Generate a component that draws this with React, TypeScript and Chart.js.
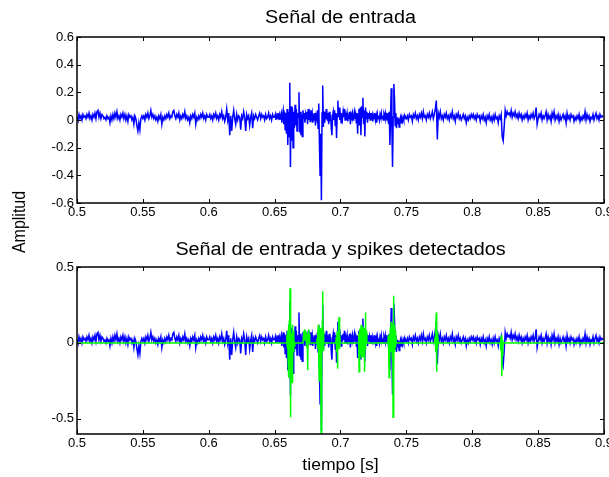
import React, { useEffect, useRef } from "react";
import { Chart, registerables } from "chart.js";

Chart.register(...registerables);

// Axis ticks
const X_TICKS = [0.5, 0.55, 0.6, 0.65, 0.7, 0.75, 0.8, 0.85, 0.9];
const Y_TICKS_TOP = [-0.6, -0.4, -0.2, 0, 0.2, 0.4, 0.6];
const Y_TICKS_BOTTOM = [-0.5, 0, 0.5];

// Input signal in hundredths of amplitude, one array per 50 ms window
const SEG_SPAN = 0.05;
const sig050 = [2, 0, 4, 1, 3, 0, 4, 2, 3, 1, 4, 2, 5, 1, 3, 0, 4, 2, 5, 1, 6, 7, 2, 5, 1, 4, 3, 1, 2, 0, 3, 1, 2, -2, 3, 0, 4, 1, 5, 2, 6, 1, 3, 0, 4, 2, 5, 1, 4, 0, 3, -1, 4, 2, 3, 0, 2, -3, 3, 1, -4, -8, -2, -7, 1, 3];
const sig055 = [1, 3, 0, 4, 2, 5, 1, 3, 7, 2, 4, 1, 3, 0, 2, -1, 3, 1, 4, -3, 2, 0, 3, 1, 4, 2, 5, 1, 3, 2, 6, 7, 3, 1, 4, 2, 5, 0, 3, 1, 4, 2, 6, 1, 3, 0, 2, -2, 3, 1, 4, 2, 5, -3, 2, 0, 3, 1, 4, 2, 5, 1, 3, 0, 4, 2];
const sig060 = [2, 4, 1, 3, 0, 4, 2, 5, 1, 3, 0, 4, 2, 6, 1, 3, -1, 2, 8, 0, 5, -11, 3, -8, 2, 7, 1, -3, 4, 0, 3, 2, -7, 3, 1, 6, 2, -8, 4, 1, 3, -4, 2, 5, -6, 3, 1, 4, 2, 0, 3, 5, 1, 4, 2, 3, 0, 4, 1, 2, 5, 1, 3, 0, 4, 2];
const sig065 = [2, 4, 0, 3, 1, 5, 2, 4, 0, 3, 5, -2, 4, 7, -3, 6, -7, 5, -10, 8, -18, 6, -12, 27, -34, 10, -15, 9, -20, 6, -6, 11, -4, 8, -8, 5, 2, 20, -9, 6, -11, 4, -12, 7, 1, 5, -2, 4, 1, 6, -3, 8, 0, 4, -1, 7, 2, 5, -2, 4, 0, 5, -4, 3, 1, 7, -6, 12, -17, -40, -10, -58, 5, 25, -5, 6, -2, 4, 1, 8, 0, 5, -3, 6, -1, 4, -6, -11, 3, 6, 0, 7, -4, 5, -13, 4, 14, 2, 9, 0];
const sig070 = [3, -2, 5, 1, 6, 2, 8, 0, 4, 2, 5, -1, 3, 1, 6, -3, 4, 2, 5, 0, 3, 6, 1, 4, -2, 5, -10, 4, 8, -4, 9, -11, 10, 2, 16, -3, 7, -12, 9, 1, 6, -2, 5, 1, 4, 0, 5, 2, 4, -1, 3, 1, 5, 0, 3, -2, 4, 1, 3, 0, 4, 2, 5, 1, 3, 0, 4, 2, 5, 1, 3, 0, 5, -3, 6, -18, 4, 23, -6, -34, 2, 26, 15, -4, 5, -6, 2, -3, 1, -5, 0, 2, -2, 1, -1, 2, 0, 3, 1, 2];
const sig075 = [1, 3, 0, 4, 2, 3, -1, 4, 2, 5, 1, 3, 0, 4, 2, 5, 1, 6, 2, 3, 0, 4, 2, 5, 1, 3, 6, 1, 4, 8, 14, -14, 5, 2, 6, 1, 3, 0, 4, 2, 5, 1, 3, 0, 4, 2, 6, 1, 3, -1, 4, 2, 5, 1, 3, 0, 2, 4, 1, 3, -2, 2, 0, 3, 1, 4];
const sig080 = [2, 4, 1, 3, 0, 4, 2, 3, -1, 3, 1, 4, 0, 2, -2, 3, 1, 4, 0, 2, -1, 3, 0, 4, 1, 2, -2, 3, 1, 4, -12, -15, -5, 7, 3, 6, 4, 5, 3, 7, 2, 5, 3, 6, 2, 4, 1, 5, 2, 4, 0, 3, 1, 4, 2, 5, 0, 3, 1, 4, 2, 5, 1, 3, 9, -3];
const sig085 = [1, 4, 2, 5, 0, 3, 1, 3, 6, 0, 4, 1, 3, -1, 5, 2, 6, 0, 3, 1, 4, -1, 3, 0, 2, 4, 1, 3, -2, 5, 1, 3, 0, 4, 2, 3, -1, 2, 0, 3, 1, 4, -1, 2, 0, 3, 1, 6, 0, 4, 1, 3, -1, 2, 1, 4, 0, 3, 5, 1, 3, 0, 4, 2, 3, 2];

const SEGMENTS: [number, number[]][] = [
  [0.5, sig050],
  [0.55, sig055],
  [0.6, sig060],
  [0.65, sig065],
  [0.7, sig070],
  [0.75, sig075],
  [0.8, sig080],
  [0.85, sig085],
];

// Detected spike waveforms (hundredths), sampled every SPIKE_DT from their onset
const SPIKE_DT = 0.0003;
const spike0659 = [0, 5, -3, 8, -10, 12, -23, 15, -8, 36, -49, 10, -22, 6, -26, 12, -13, 8, -6, 3, -2, 0];
const spike0672 = [0, 4, 8, 2, 9, 5, 8, 1, 6, -3, 7, 2, -18, 4, 9, 3, 6, 0];
const spike0682 = [0, 3, -4, 6, 12, -8, -25, 4, -12, 10, -20, -60, 6, -10, 15, 34, -5, 8, 0];
const spike0697 = [0, 4, -6, 8, -17, 6, -3, 10, 17, -4, 6, 0];
const spike0714 = [0, 6, -19, 8, -6, 10, -8, 12, -10, 9, -6, 11, -9, 8, -5, 10, -19, 6, 20, -4, 8, 3, 0];
const spike0736 = [0, 5, -8, -23, 6, -12, 10, -6, 14, -5, 8, -10, 12, -49, 31, -20, 12, -6, 8, -3, 5, 0];
const spike0772 = [0, 4, -6, 9, 20, -19, 7, -4, 5, 0];
const spike0821 = [0, 3, -5, 5, -22, -8, 2, -3, 0];

const SPIKES: [number, number[]][] = [
  [0.659, spike0659],
  [0.6715, spike0672],
  [0.682, spike0682],
  [0.6965, spike0697],
  [0.7135, spike0714],
  [0.736, spike0736],
  [0.7715, spike0772],
  [0.8212, spike0821],
];

const T_START = 0.5;
const T_END = 0.9;

const FONT = "'Liberation Sans', Arial, Helvetica, sans-serif";

function signalPoints() {
  const pts: { x: number; y: number }[] = [];
  SEGMENTS.forEach(([t0, vals]) => {
    vals.forEach((v, j) => pts.push({ x: t0 + (j * SEG_SPAN) / vals.length, y: v / 100 }));
  });
  return pts;
}

function spikePoints() {
  const pts: { x: number; y: number }[] = [{ x: T_START, y: 0 }];
  SPIKES.forEach(([t0, vals]) => {
    vals.forEach((v, j) => pts.push({ x: t0 + j * SPIKE_DT, y: v / 100 }));
  });
  pts.push({ x: T_END, y: 0 });
  return pts;
}

// Closed box with short inward tick marks on all four sides
const boxTicks = {
  id: "boxTicks",
  afterDraw(chart: any) {
    const { ctx, chartArea: a, scales } = chart;
    const L = 4;
    ctx.save();
    ctx.strokeStyle = "#000";
    ctx.lineWidth = 1;
    ctx.beginPath();
    scales.x.ticks.forEach((t: any) => {
      const px = Math.round(scales.x.getPixelForValue(t.value)) + 0.5;
      ctx.moveTo(px, a.bottom);
      ctx.lineTo(px, a.bottom - L);
      ctx.moveTo(px, a.top);
      ctx.lineTo(px, a.top + L);
    });
    scales.y.ticks.forEach((t: any) => {
      const py = Math.round(scales.y.getPixelForValue(t.value)) + 0.5;
      ctx.moveTo(a.left, py);
      ctx.lineTo(a.left + L, py);
      ctx.moveTo(a.right, py);
      ctx.lineTo(a.right - L, py);
    });
    ctx.stroke();
    ctx.lineWidth = 1.5;
    ctx.strokeRect(a.left, a.top, a.right - a.left, a.bottom - a.top);
    ctx.restore();
  },
};

function fmt(v: number) {
  return String(parseFloat(Number(v).toFixed(2)));
}

function makeOptions(yMin: number, yMax: number, yTicks: number[], padTop: number, xAxisHeight: number) {
  const tickFont = { family: FONT, size: 13 };
  return {
    responsive: false,
    animation: false as const,
    events: [],
    layout: { padding: { top: padTop, right: 5, left: 0, bottom: 0 } },
    plugins: { legend: { display: false }, tooltip: { enabled: false }, title: { display: false } },
    scales: {
      x: {
        type: "linear" as const,
        min: T_START,
        max: T_END,
        afterBuildTicks: (s: any) => {
          s.ticks = X_TICKS.map((v) => ({ value: v }));
        },
        afterFit: (s: any) => {
          s.height = xAxisHeight;
          s.paddingLeft = 0;
          s.paddingRight = 0;
        },
        ticks: { callback: (v: any) => fmt(v), font: tickFont, color: "#000", padding: 2, maxRotation: 0, autoSkip: false },
        grid: { display: false, drawTicks: false },
        border: { display: false },
      },
      y: {
        type: "linear" as const,
        min: yMin,
        max: yMax,
        afterBuildTicks: (s: any) => {
          s.ticks = yTicks.map((v) => ({ value: v }));
        },
        afterFit: (s: any) => {
          s.width = 77;
          s.paddingTop = 0;
          s.paddingBottom = 0;
        },
        ticks: { callback: (v: any) => fmt(v), font: tickFont, color: "#000", padding: 3, autoSkip: false },
        grid: { display: false, drawTicks: false },
        border: { display: false },
      },
    },
  };
}

const lineStyle = { borderWidth: 1.5, pointRadius: 0, tension: 0, fill: false };

export default function App() {
  const topRef = useRef<HTMLCanvasElement | null>(null);
  const bottomRef = useRef<HTMLCanvasElement | null>(null);

  useEffect(() => {
    const signal = signalPoints();
    const top = new Chart(topRef.current!, {
      type: "line",
      data: {
        datasets: [{ label: "Señal", data: signal, borderColor: "#0000ff", ...lineStyle }],
      },
      options: makeOptions(-0.6, 0.6, Y_TICKS_TOP, 37, 32) as any,
      plugins: [boxTicks],
    });
    const bottom = new Chart(bottomRef.current!, {
      type: "line",
      data: {
        datasets: [
          { label: "Spikes", data: spikePoints(), borderColor: "#00ff00", ...lineStyle },
          { label: "Señal", data: signal, borderColor: "#0000ff", ...lineStyle },
        ],
      },
      options: makeOptions(-0.6, 0.5, Y_TICKS_BOTTOM, 32, 43) as any,
      plugins: [boxTicks],
    });
    return () => {
      top.destroy();
      bottom.destroy();
    };
  }, []);

  const text: React.CSSProperties = {
    position: "absolute",
    fontFamily: FONT,
    color: "#000",
    whiteSpace: "nowrap",
    textAlign: "center",
  };

  return (
    <div style={{ position: "absolute", left: 0, top: 0, width: 609, height: 477, background: "#fff", overflow: "hidden" }}>
      <canvas ref={topRef} width={609} height={235} style={{ position: "absolute", left: 0, top: 0, width: 609, height: 235 }} />
      <canvas ref={bottomRef} width={609} height={242} style={{ position: "absolute", left: 0, top: 235, width: 609, height: 242 }} />
      <div style={{ ...text, left: 77, width: 527, top: 6, fontSize: 18, lineHeight: "22px", transform: "scaleX(1.1)" }}>Señal de entrada</div>
      <div style={{ ...text, left: 77, width: 527, top: 238, fontSize: 18, lineHeight: "22px", transform: "scaleX(1.1)" }}>Señal de entrada y spikes detectados</div>
      <div style={{ ...text, left: 77, width: 527, top: 455, fontSize: 16, lineHeight: "20px", transform: "scaleX(1.1)" }}>tiempo [s]</div>
      <div
        style={{
          ...text,
          left: 19 - 50,
          top: 222 - 10,
          width: 100,
          fontSize: 16,
          lineHeight: "20px",
          transform: "rotate(-90deg) scaleY(1.1)",
        }}
      >
        Amplitud
      </div>
    </div>
  );
}
